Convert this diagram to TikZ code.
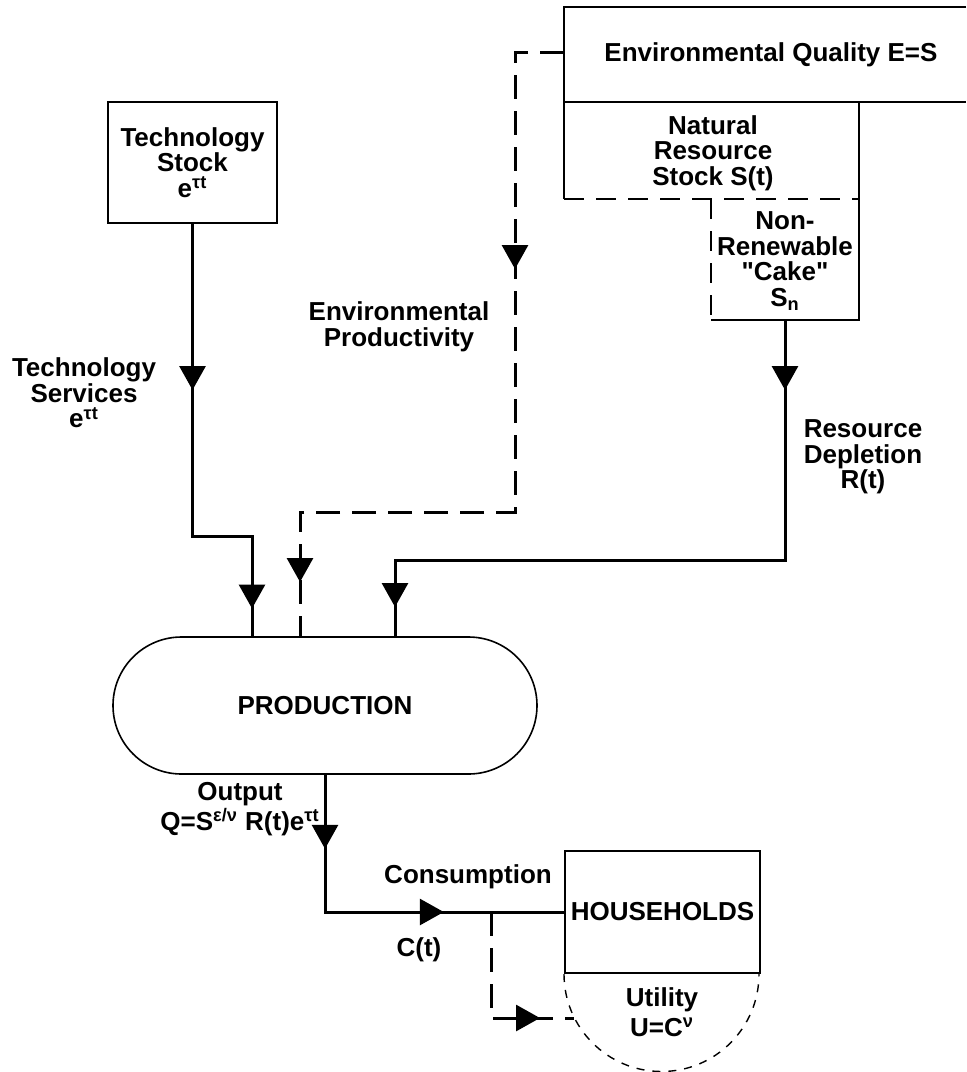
\documentclass[tikz,border=0pt]{standalone}
\usepackage{fontspec}
\setmainfont{Liberation Sans}
\usetikzlibrary{arrows.meta,decorations.markings,shapes.misc}
\tikzset{
	box node/.style={rectangle, draw, line width=1pt, align=center, inner sep=0pt},
	prod node/.style={rounded rectangle, rounded rectangle arc length=180, draw, line width=0.8pt, inner sep=0pt},
	text node/.style={align=center, inner sep=0pt},
	frame line/.style={line width=1pt},
	frame dash/.style={line width=1pt, dash pattern=on 10pt off 6pt},
	flow line/.style={line width=1.5pt},
	flow dash/.style={line width=1.5pt, dash pattern=on 12pt off 6pt},
	flow tip/.style={postaction={decorate, solid, decoration={markings,
		mark=at position #1 with {\arrow{Triangle[width=13pt,length=12pt]}}}}},
}

\begin{document}
\begin{tikzpicture}[x=0.5pt, y=-0.5pt, font=\bfseries\fontsize{13}{12.8}\selectfont]
\useasboundingbox (0,0) rectangle (966,1072);

% environment and resource stocks
\draw[frame line] (966,7) -- (564,7) -- (564,199);
\draw[frame line] (564,102) -- (966,102);
\draw[frame line] (859,102) -- (859,320) -- (711,320);
\draw[frame dash] (564,199) -- (859,199);
\draw[frame dash] (711,199) -- (711,320);
\node[text node] (quality) at (771,55) {Environmental Quality E=S};
\node[text node] (stock) at (713,153) {Natural\\Resource\\Stock S(t)};
\node[text node] (cake) at (785,261) {Non-\\Renewable\\\textquotedbl Cake\textquotedbl\\S\textsubscript{n}};
\coordinate (qualityout) at (564,52);
\coordinate (cakeout) at (785,320);

\node[box node, minimum width=84.5pt, minimum height=60.5pt] (techstock) at (192.5,162.5) {Technology\\Stock\\e\textsuperscript{τt}};
\node[prod node, minimum width=212pt, minimum height=68.5pt] (production) at (325,705.5) {PRODUCTION};
\node[box node, minimum width=97.5pt, minimum height=61pt] (households) at (662.5,912) {HOUSEHOLDS};
\draw[line width=0.7pt, dash pattern=on 4pt off 4pt] (households.south west) arc[start angle=180, end angle=360, radius=48.75pt];
\node[text node] (utility) at (662,1012) {Utility\\[2pt]U=C\textsuperscript{ν}};

% flows into production
\draw[flow line, flow tip=83pt, flow tip=222pt] (techstock.south) -- (192.5,536) -- (252,536) -- (252,0 |- production.north);
\draw[flow dash, flow tip=133pt, flow tip=397pt] (qualityout) -- (515,52) -- (515,512) -- (300,512) -- (300,0 |- production.north);
\draw[flow line, flow tip=35pt, flow tip=338.5pt] (cakeout) -- (785,560) -- (395,560) -- (395,0 |- production.north);

% output and consumption
\draw[flow line, flow tip=37pt, flow tip=128pt] (production.south) -- (325,912) -- (households.west);
\coordinate (branch) at (491,912);
\coordinate (utilityin) at (574,1018);
\draw[flow dash, flow tip=77.5pt] (branch) -- (491,1018) -- (utilityin);

% labels
\node[text node] (techlabel) at (84,393) {Technology\\Services\\e\textsuperscript{τt}};
\node[text node] (envlabel) at (399,327) {Environmental\\Productivity};
\node[text node] (deplabel) at (863,457) {Resource\\Depletion\\R(t)};
\node[text node] (outlabel) at (240,809) {Output\\Q=S\textsuperscript{ε/ν} R(t)e\textsuperscript{τt}};
\node[text node] (conslabel) at (468,877) {Consumption};
\node[text node] (clabel) at (419,950) {C(t)};
\end{tikzpicture}
\end{document}
